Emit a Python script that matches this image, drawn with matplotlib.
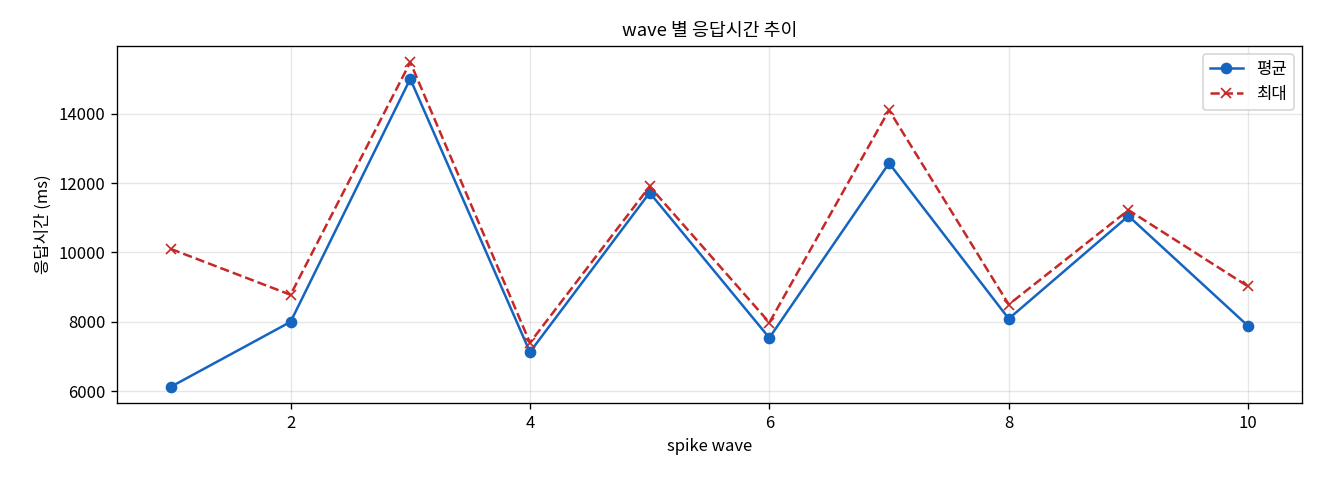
import matplotlib
matplotlib.use("Agg")
import matplotlib.pyplot as plt

plt.rcParams['font.family'] = ['Noto Sans CJK KR', 'DejaVu Sans']

waves = [1, 2, 3, 4, 5, 6, 7, 8, 9, 10]
avg = [6130, 8000, 15000, 7130, 11720, 7540, 12570, 8090, 11050, 7880]
mx = [10100, 8780, 15480, 7400, 11900, 7980, 14100, 8500, 11220, 9020]

fig = plt.figure(figsize=(11, 4), dpi=120)
ax = fig.add_axes([117/1320, 1-403/480, (1302-117)/1320, (403-46)/480])
ax.plot(waves, avg, '-o', color='#1565c0', markersize=6, label='평균')
ax.plot(waves, mx, '--x', color='#c62828', markersize=6, label='최대')
ax.set_title('wave 별 응답시간 추이', fontsize=11)
ax.set_xlabel('spike wave')
ax.set_ylabel('응답시간 (ms)')
ax.grid(True, alpha=0.3)
ax.legend(loc='upper right')
fig.savefig('out.png', dpi=120)
